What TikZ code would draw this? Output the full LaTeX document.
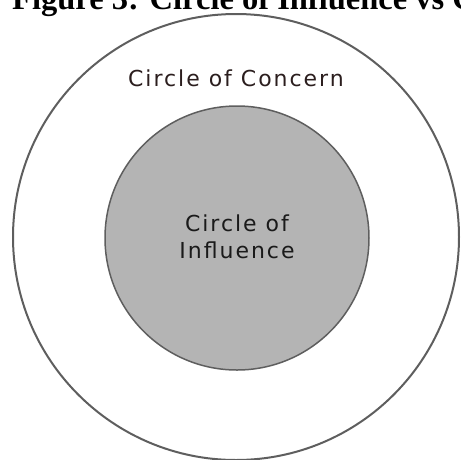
\documentclass[tikz,border=0pt]{standalone}
\usepackage{fontspec}
\setmainfont{Liberation Serif}
\newfontfamily\labelfont[LetterSpace=9]{DejaVu Sans}
\definecolor{ringgray}{HTML}{5E5E5E}
\definecolor{infill}{HTML}{B4B4B4}
\definecolor{concerntext}{HTML}{2B1E1E}
\definecolor{inftext}{HTML}{1A1A1A}
\tikzset{
  ring/.style={draw=ringgray, line width=2pt},
  lbl/.style={font=\labelfont\fontsize{22}{27}\selectfont, align=center, inner sep=0pt},
}
\begin{document}
\begin{tikzpicture}[x=1pt,y=-1pt]
\useasboundingbox (0,0) rectangle (461,459);
\clip (0,0) rectangle (461,459);
\node[anchor=base west, inner sep=0pt, font=\bfseries\fontsize{32.5}{36}\selectfont] (title) at (12,9) {Figure 3: Circle of Influence vs Circle of Concern};
\node[ring, circle, minimum size=446pt, inner sep=0pt] (concern) at (236,237) {};
\node[circle, draw=ringgray, line width=1.5pt, fill=infill, minimum size=264pt, inner sep=0pt] (influence) at (237,238) {};
\node[lbl, anchor=base, text=concerntext] (concernlbl) at (236,86) {Circle of Concern};
\node[lbl, anchor=base, text=inftext] (inflbl1) at (237,231) {Circle of};
\node[lbl, anchor=base, text=inftext] (inflbl2) at (237,258) {Influence};
\end{tikzpicture}
\end{document}
